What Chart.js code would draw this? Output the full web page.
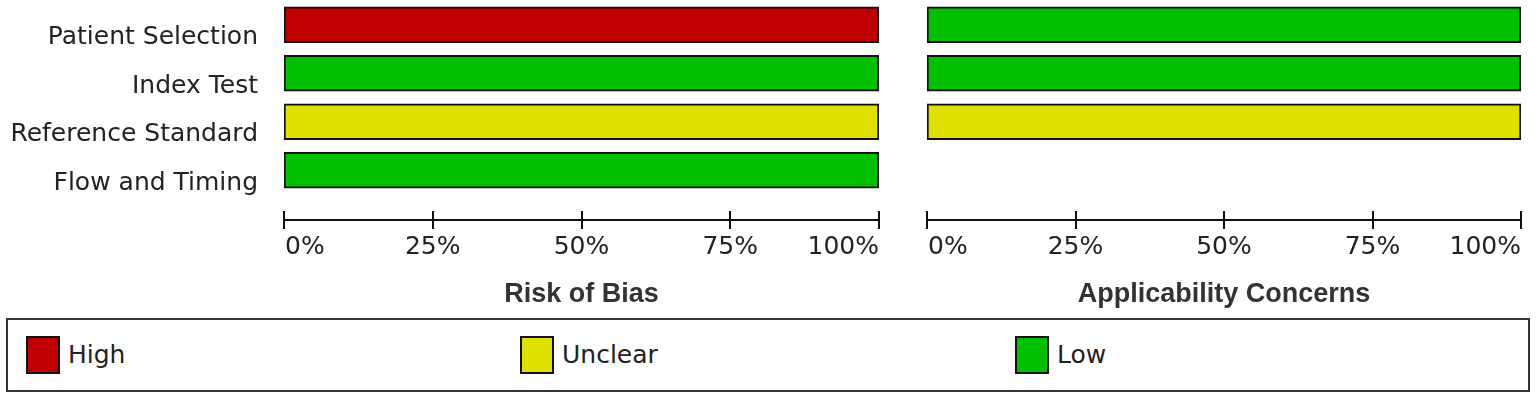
<!DOCTYPE html>
<html>
<head>
<meta charset="utf-8">
<script src="https://cdn.jsdelivr.net/npm/chart.js@4/dist/chart.umd.min.js"></script>
<style>
  html, body { margin: 0; padding: 0; background: #fff; }
  body { width: 1536px; height: 398px; position: relative; overflow: hidden; }
  canvas { position: absolute; top: 0; }
  #biasChart { left: 0; }
  #applChart { left: 900px; }
  .legend {
    position: absolute; left: 6px; top: 318px; width: 1520px; height: 70px;
    border: 2px solid #333; box-sizing: content-box;
    font: 25px "DejaVu Sans", sans-serif; color: #222;
  }
  .legend .item { position: absolute; top: 16px; height: 37px; display: flex; align-items: center; }
  .legend .swatch { width: 30px; height: 34px; border: 2px solid #111; margin-right: 8px; }
</style>
</head>
<body>
<canvas id="biasChart" width="900" height="310"></canvas>
<canvas id="applChart" width="636" height="310"></canvas>
<div class="legend" id="legend"></div>
<script>
const domains = ["Patient Selection", "Index Test", "Reference Standard", "Flow and Timing"];
const levels = ["High", "Unclear", "Low"];
const levelColors = ["#c00000", "#e0e000", "#00c000"];

// percent of studies per domain
const biasHigh = [100, 0, 0, 0];
const biasUnclear = [0, 0, 100, 0];
const biasLow = [0, 100, 0, 100];

const applHigh = [0, 0, 0, null];
const applUnclear = [0, 0, 100, null];
const applLow = [100, 100, 0, null];

const tickValues = [0, 25, 50, 75, 100];
const tickLabels = ["0%", "25%", "50%", "75%", "100%"];

// axis line with ticks both sides, end labels aligned to the ends, bold title below
const riskAxis = {
  id: "riskAxis",
  afterDraw(chart, args, opts) {
    const { ctx, chartArea } = chart;
    const x = chart.scales.x;
    const y0 = Math.round(chartArea.bottom + 25);
    const last = tickValues.length - 1;
    ctx.save();
    ctx.strokeStyle = "#111";
    ctx.lineWidth = 2;
    ctx.beginPath();
    ctx.moveTo(x.getPixelForValue(tickValues[0]), y0);
    ctx.lineTo(x.getPixelForValue(tickValues[last]), y0);
    tickValues.forEach((v) => {
      const px = Math.round(x.getPixelForValue(v));
      ctx.moveTo(px, y0 - 9);
      ctx.lineTo(px, y0 + 9);
    });
    ctx.stroke();

    ctx.fillStyle = "#222";
    ctx.font = "25px 'DejaVu Sans'";
    ctx.textBaseline = "middle";
    tickValues.forEach((v, i) => {
      const px = x.getPixelForValue(v);
      ctx.textAlign = i === 0 ? "left" : i === last ? "right" : "center";
      ctx.fillText(tickLabels[i], i === 0 ? px + 1 : px, y0 + 27);
    });

    ctx.fillStyle = "#333";
    ctx.font = "bold 27px 'Liberation Sans'";
    ctx.textAlign = "center";
    ctx.fillText(opts.title, (chartArea.left + chartArea.right) / 2, y0 + 75);
    ctx.restore();
  }
};

const makeDatasets = (series) =>
  series.map((data, i) => ({
    label: levels[i],
    data,
    backgroundColor: levelColors[i],
    borderColor: "#111",
    borderWidth: 2,
    borderSkipped: false,
    barThickness: 36
  }));

const baseOptions = (title, showLabels, padding) => ({
  indexAxis: "y",
  responsive: false,
  animation: false,
  devicePixelRatio: 1,
  layout: { padding },
  plugins: {
    legend: { display: false },
    tooltip: { enabled: false },
    riskAxis: { title }
  },
  scales: {
    x: { stacked: true, min: 0, max: 100, display: false },
    y: {
      stacked: true,
      display: showLabels,
      border: { display: false },
      grid: { display: false, drawTicks: false },
      ticks: {
        color: "#222",
        font: { family: "DejaVu Sans", size: 25 },
        padding: 26,
        labelOffset: 13
      },
      afterFit: (scale) => {
        if (!showLabels) return;
        scale.width = 284;
        scale.paddingTop = 0;
        scale.paddingBottom = 0;
      }
    }
  }
});

new Chart(document.getElementById("biasChart"), {
  type: "bar",
  data: { labels: domains, datasets: makeDatasets([biasHigh, biasUnclear, biasLow]) },
  options: baseOptions("Risk of Bias", true, { left: 0, right: 21, top: 0.5, bottom: 115.5 }),
  plugins: [riskAxis]
});

new Chart(document.getElementById("applChart"), {
  type: "bar",
  data: { labels: domains, datasets: makeDatasets([applHigh, applUnclear, applLow]) },
  options: baseOptions("Applicability Concerns", false, { left: 27, right: 15, top: 0.5, bottom: 115.5 }),
  plugins: [riskAxis]
});

// legend box
const legendEl = document.getElementById("legend");
const legendLeft = [18, 512, 1007];
levels.forEach((name, i) => {
  const item = document.createElement("div");
  item.className = "item";
  item.style.left = legendLeft[i] + "px";
  item.innerHTML = `<div class="swatch" style="background:${levelColors[i]}"></div><span>${name}</span>`;
  legendEl.appendChild(item);
});
</script>
</body>
</html>
